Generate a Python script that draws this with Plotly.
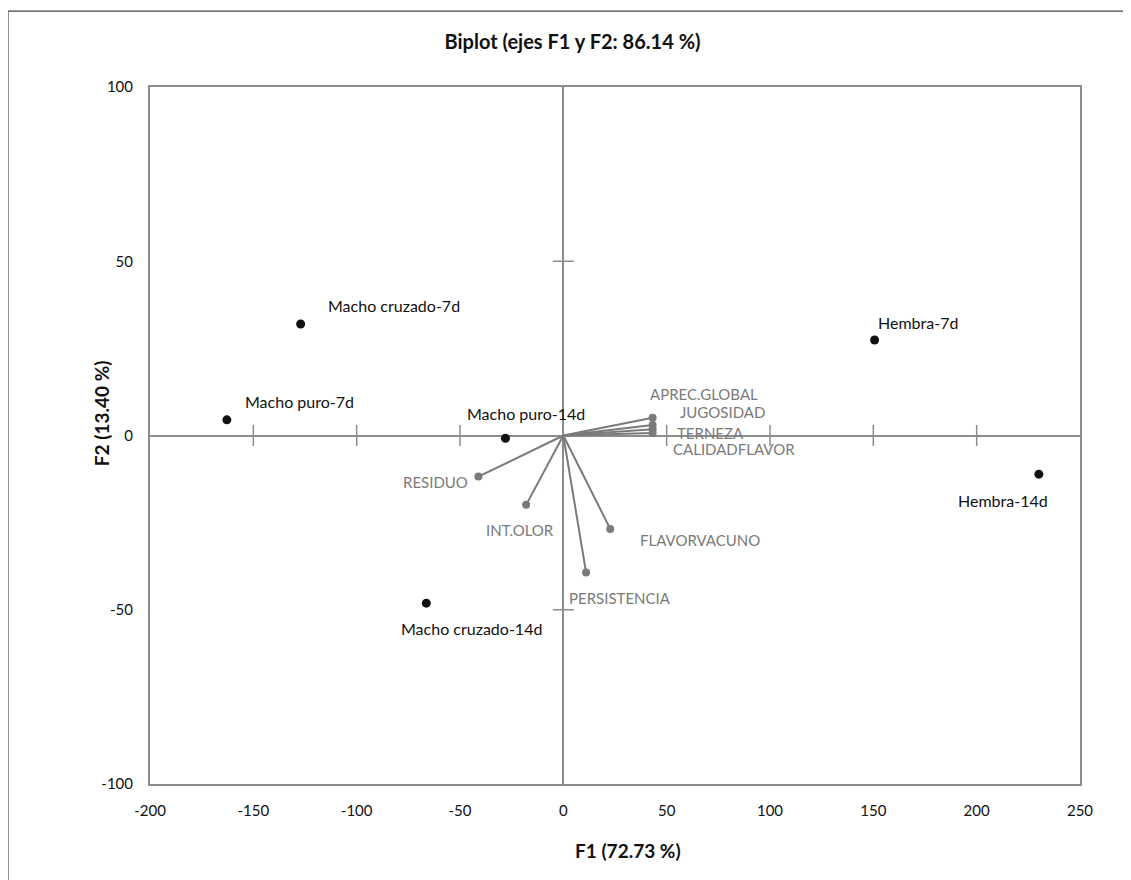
import plotly.graph_objects as go

# ---- data ----
obs_names = ["Macho cruzado-7d", "Macho puro-7d", "Macho puro-14d",
             "Macho cruzado-14d", "Hembra-7d", "Hembra-14d"]
obs_f1 = [-127.1, -162.8, -28.0, -66.3, 150.6, 230.1]
obs_f2 = [32.0, 4.5, -0.8, -48.1, 27.4, -11.1]

var_names = ["APREC.GLOBAL", "JUGOSIDAD", "TERNEZA", "CALIDADFLAVOR",
             "RESIDUO", "INT.OLOR", "FLAVORVACUNO", "PERSISTENCIA"]
var_f1 = [43.2, 43.2, 43.2, 43.2, -41.1, -18.0, 22.7, 11.0]
var_f2 = [5.1, 3.0, 1.8, 0.7, -11.8, -19.9, -26.8, -39.3]

x_ticks = [-200, -150, -100, -50, 0, 50, 100, 150, 200, 250]
y_ticks = [-100, -50, 0, 50, 100]

# ---- label offsets (pixels) ----
obs_dx = [93, 73, 21, 45, 43, -36]
obs_dy = [18, 18, 25, -25, 18, -26]
var_dx = [51, 70, 58, 81, -43, -6, 90, 34]
var_dy = [24, 13, -4, -16, -5, -25, -11, -26]

GRAY = "#7a7a7a"
AX = "#8c8c8c"
FONT = "Lato"
BLACK = "#111111"

fig = go.Figure()

# cross tick marks on the zero lines
xt = [v for v in x_ticks if v not in (0, x_ticks[0], x_ticks[-1])]
yt = [v for v in y_ticks if v not in (0, y_ticks[0], y_ticks[-1])]
fig.add_trace(go.Scatter(x=xt, y=[0] * len(xt), mode="markers",
                         marker=dict(symbol="line-ns", size=15, line=dict(color=AX, width=1.5)),
                         hoverinfo="skip", showlegend=False))
fig.add_trace(go.Scatter(x=[0] * len(yt), y=yt, mode="markers",
                         marker=dict(symbol="line-ew", size=15, line=dict(color=AX, width=1.5)),
                         hoverinfo="skip", showlegend=False))

# vectors
lx, ly = [], []
for a, b in zip(var_f1, var_f2):
    lx += [0, a, None]
    ly += [0, b, None]
fig.add_trace(go.Scatter(x=lx, y=ly, mode="lines", line=dict(color=GRAY, width=2),
                         hoverinfo="skip", showlegend=False))
fig.add_trace(go.Scatter(x=var_f1, y=var_f2, mode="markers",
                         marker=dict(color=GRAY, size=8, symbol="circle"),
                         text=var_names, showlegend=False))

# observations
fig.add_trace(go.Scatter(x=obs_f1, y=obs_f2, mode="markers",
                         marker=dict(color=BLACK, size=9, symbol="circle"),
                         text=obs_names, showlegend=False))

for n, a, b, dx, dy in zip(obs_names, obs_f1, obs_f2, obs_dx, obs_dy):
    fig.add_annotation(x=a, y=b, text=n, showarrow=False, xshift=dx, yshift=dy,
                       font=dict(family=FONT, size=16, color=BLACK))
for n, a, b, dx, dy in zip(var_names, var_f1, var_f2, var_dx, var_dy):
    fig.add_annotation(x=a, y=b, text=n, showarrow=False, xshift=dx, yshift=dy,
                       font=dict(family=FONT, size=15, color=GRAY))

# axis titles
fig.add_annotation(xref="paper", yref="paper", x=0.5145, y=-0.0947, showarrow=False,
                   text="<b>F1 (72.73 %)</b>", xanchor="center", yanchor="middle",
                   font=dict(family=FONT, size=19, color=BLACK))
fig.add_annotation(xref="paper", yref="paper", x=-0.0527, y=0.532, showarrow=False,
                   text="<b>F2 (13.40 %)</b>", textangle=-90, xanchor="center", yanchor="middle",
                   font=dict(family=FONT, size=19, color=BLACK))

# outer border
fig.add_shape(type="rect", xref="paper", yref="paper",
              x0=-0.1527, x1=1.2, y0=-0.3, y1=1.109,
              line=dict(color="#444444", width=1.2), layer="below")

fig.update_layout(
    width=1115, height=872,
    margin=dict(l=142, r=43, t=79, b=96),
    paper_bgcolor="white", plot_bgcolor="white",
    font=dict(family=FONT, size=14, color=BLACK),
    title=dict(text="<b>Biplot (ejes F1 y F2: 86.14 %)</b>", x=0.5063, xanchor="center",
               y=0.961, yanchor="middle", font=dict(family=FONT, size=20, color=BLACK)),
    xaxis=dict(range=[-200, 250], tickvals=x_ticks, ticktext=[str(v) for v in x_ticks],
               showgrid=False, zeroline=True, zerolinecolor=AX, zerolinewidth=2,
               showline=True, linecolor=AX, linewidth=2, mirror=True,
               ticks="", ticklabelstandoff=12,
               tickfont=dict(family=FONT, size=15, color=BLACK)),
    yaxis=dict(range=[-100, 100], tickvals=y_ticks, ticktext=[str(v) for v in y_ticks],
               showgrid=False, zeroline=True, zerolinecolor=AX, zerolinewidth=2,
               showline=True, linecolor=AX, linewidth=2, mirror=True,
               ticks="", ticklabelstandoff=12,
               tickfont=dict(family=FONT, size=15, color=BLACK)),
)

fig.write_html("out.html")
